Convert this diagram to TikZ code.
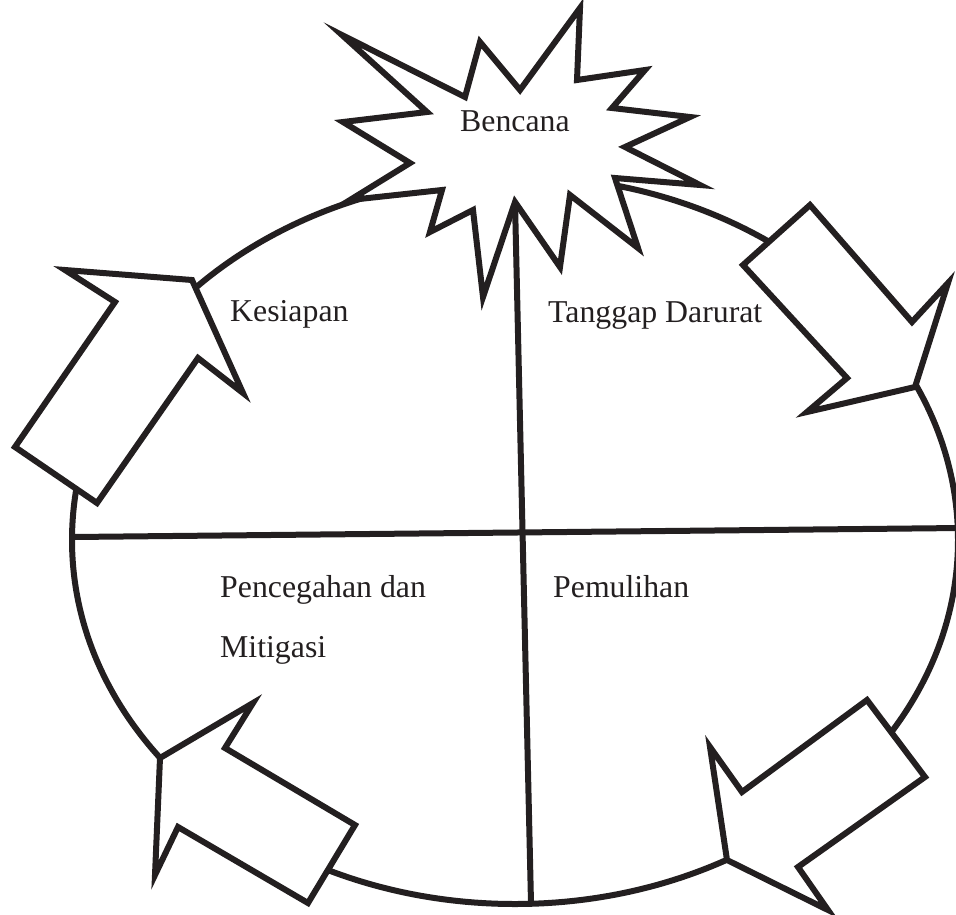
\documentclass[tikz,border=0pt]{standalone}
\usepackage{fontspec}
\setmainfont{Liberation Serif}
\definecolor{ink}{HTML}{231F20}
\begin{document}
\begin{tikzpicture}[x=1pt,y=-1pt,
  outline/.style={draw=ink,line width=6pt,line join=miter},
  filledshape/.style={outline,fill=white},
  lbl/.style={anchor=base west,inner sep=0pt,text=ink,font=\fontsize{31.8}{38}\selectfont}]
\useasboundingbox (0,0) rectangle (956,914);
% cycle ellipse
\draw[outline] (515,540) ellipse [x radius=443pt, y radius=364pt];
% dividing lines
\coordinate (vtop) at (515,202);
\coordinate (vbot) at (531,903);
\coordinate (hl) at (73,537);
\coordinate (hr) at (960,528);
\draw[outline] (vtop) -- (vbot);
\draw[outline] (hl) -- (hr);
% arrows
\draw[filledshape] (65,270) -- (192,280) -- (243,393) -- (198,358) -- (97,503) -- (15,447) -- (115,302) -- cycle;
\draw[filledshape] (810,205) -- (912,322) -- (948,283) -- (915,387) -- (807,412) -- (847,378) -- (743,265) -- cycle;
\draw[filledshape] (867,700) -- (925,777) -- (798,867) -- (828,910) -- (727,860) -- (710,747) -- (742,792) -- cycle;
\draw[filledshape] (355,825) -- (308,903) -- (178,827) -- (155,875) -- (160,758) -- (253,703) -- (225,748) -- cycle;
% star
\draw[filledshape] (580,8) -- (577,80) -- (645,70) -- (612,108) -- (690,117) -- (625,147) -- (700,185) -- (615,178) -- (638,248) -- (570,195) -- (560,267) -- (515,202) -- (483,297) -- (473,210) -- (430,232) -- (442,190) -- (350,200) -- (410,163) -- (343,122) -- (427,112) -- (342,35) -- (465,97) -- (480,42) -- (520,90) -- cycle;
% labels
\node[lbl] (bencana) at (460,131) {Bencana};
\node[lbl] (kesiapan) at (230,321) {Kesiapan};
\node[lbl] (tanggap) at (548,322) {Tanggap Darurat};
\node[lbl] (pencegahan) at (220,597) {Pencegahan dan};
\node[lbl] (mitigasi) at (220,657) {Mitigasi};
\node[lbl] (pemulihan) at (553,597) {Pemulihan};
\end{tikzpicture}
\end{document}
